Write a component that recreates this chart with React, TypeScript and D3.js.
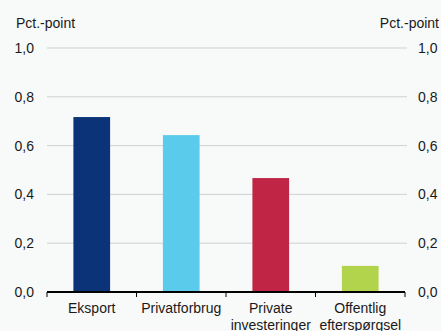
import React from "react";
import * as d3 from "d3";

const categories: string[][] = [["Eksport"], ["Privatforbrug"], ["Private", "investeringer"], ["Offentlig", "efterspørgsel"]];
const values: number[] = [0.717, 0.643, 0.467, 0.107];
const colors: string[] = ["#0a3378", "#5bcbeb", "#c02546", "#b2d34c"];
const yTicks: number[] = [0, 0.2, 0.4, 0.6, 0.8, 1.0];
const unitLabel = "Pct.-point";

export default function App() {
  const W = 441, H = 331;
  const left = 47, right = 405, top = 48, bottom = 292;
  const x = d3.scaleBand<number>().domain(d3.range(values.length)).range([left, right]).paddingInner(0.59).paddingOuter(0.295);
  const xb = d3.scaleBand<number>().domain(d3.range(values.length)).range([left, right]);
  const y = d3.scaleLinear().domain([0, 1]).range([bottom, top]);
  const fmt = (v: number) => v.toFixed(1).replace(".", ",");
  const font = "'Liberation Sans', Arial, sans-serif";
  const fs = 14;
  const boundaries = d3.range(values.length + 1).map((i) => (i < values.length ? xb(i)! : right));
  return (
    <div style={{ position: "fixed", left: 0, top: 0 }}>
      <svg width={W} height={H} style={{ display: "block", background: "#f8f9f9" }} fontFamily={font}>
        <text x={16} y={28} fontSize={fs} fill="#1a1a1a">{unitLabel}</text>
        <text x={439} y={28} fontSize={fs} fill="#1a1a1a" textAnchor="end">{unitLabel}</text>
        {yTicks.map((t) => (
          <g key={t}>
            {t > 0 && <line x1={left} x2={right + 2} y1={y(t)} y2={y(t)} stroke="#cfd1d1" strokeWidth={1} />}
            <text x={34} y={y(t)} dy="0.35em" fontSize={fs} fill="#1a1a1a" textAnchor="end">{fmt(t)}</text>
            <text x={418} y={y(t)} dy="0.35em" fontSize={fs} fill="#1a1a1a">{fmt(t)}</text>
          </g>
        ))}
        {values.map((v, i) => (
          <rect key={i} x={x(i)} y={y(v)} width={x.bandwidth()} height={y(0) - y(v)} fill={colors[i]} />
        ))}
        <line x1={left} x2={right} y1={y(0)} y2={y(0)} stroke="#000" strokeWidth={2} />
        {boundaries.map((b, i) => (
          <line key={i} x1={b} x2={b} y1={y(0)} y2={y(0) + 5} stroke="#000" strokeWidth={1} />
        ))}
        {categories.map((lines, i) => (
          <text key={i} x={xb(i)! + xb.bandwidth() / 2} y={313} fontSize={fs} fill="#1a1a1a" textAnchor="middle">
            {lines.map((l, j) => (
              <tspan key={j} x={xb(i)! + xb.bandwidth() / 2} dy={j === 0 ? 0 : 16.5}>{l}</tspan>
            ))}
          </text>
        ))}
      </svg>
    </div>
  );
}
